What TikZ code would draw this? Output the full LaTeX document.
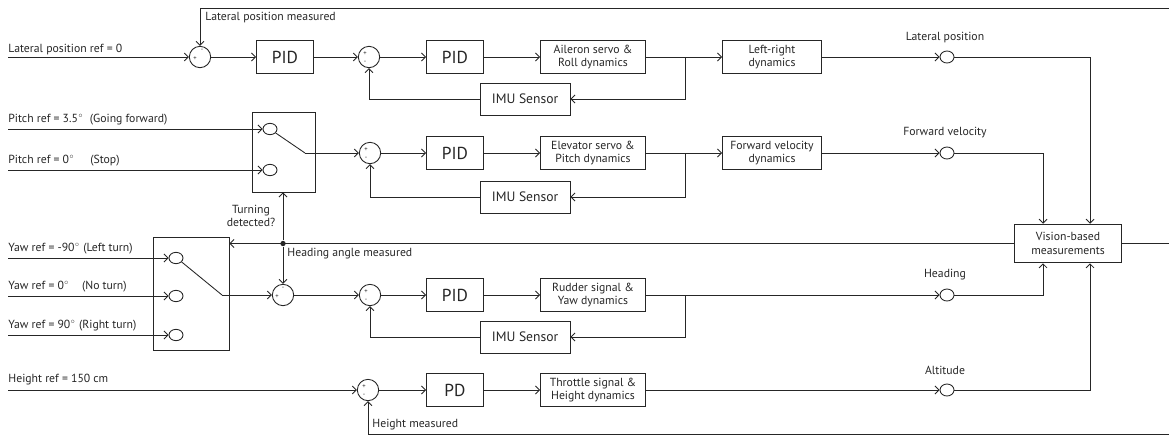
\documentclass[tikz,border=0pt]{standalone}
\usepackage{fontspec}
\setmainfont{PT Sans}
\usetikzlibrary{arrows.meta,shapes.geometric}

\newcommand{\dg}{\textsuperscript{$\scriptscriptstyle\circ$}}

\tikzset{
  blk/.style={draw, minimum height=25pt, inner sep=1pt, align=center, font=\fontsize{8.8}{10}\selectfont},
  ctrl/.style={blk, minimum width=42.75pt, font=\fontsize{13}{14}\selectfont},
  plant/.style={blk, minimum width=78.75pt},
  imu/.style={blk, minimum width=67.5pt, minimum height=24pt, font=\fontsize{10.2}{11}\selectfont},
  sumj/.style={draw, circle, minimum size=16pt, inner sep=0pt},
  tap/.style={draw, ellipse, minimum width=10.5pt, minimum height=9pt, inner sep=0pt},
  pole/.style={draw, ellipse, minimum width=10.5pt, minimum height=8.5pt, inner sep=0pt},
  swbox/.style={draw, inner sep=0pt},
  lbl/.style={font=\fontsize{8.8}{10}\selectfont, inner sep=0pt},
  sgn/.style={font=\fontsize{5}{5}\selectfont, inner sep=0pt},
}

\begin{document}
\begin{tikzpicture}[x=0.75pt, y=-0.75pt, >={Straight Barb[length=3pt,width=6pt]}, line width=0.65pt, color=black!85]
\useasboundingbox (0,0) rectangle (1169,437);

% lateral position loop
\node[sumj] (s1) at (200,57) {};
\node[sgn] (s1p) at (195,59) {+};
\node[sgn] (s1m) at (202,50) {-};
\node[ctrl] (pid1) at (285,57) {PID};
\node[sumj] (s2) at (369,57) {};
\node[sgn] (s2p) at (365,54) {+};
\node[sgn] (s2m) at (365,62) {-};
\node[ctrl] (pid2) at (455,57) {PID};
\node[plant] (ail) at (593,57) {Aileron servo \&\\Roll dynamics};
\node[plant, minimum width=74.25pt] (lr) at (772,57) {Left-right\\dynamics};
\node[imu] (imu1) at (525,99) {IMU Sensor};
\node[tap] (o1) at (947,57) {};
\node[lbl] (o1l) at (945,38) {Lateral position};
\coordinate (in1) at (8,57);
\node[lbl, anchor=west] (in1l) at (8,49) {Lateral position ref = 0};
\coordinate (b1) at (685,57);
\coordinate (fb1) at (1169,8);
\node[lbl, anchor=west] (fb1l) at (205,18) {Lateral position measured};

\draw[->] (in1) -- (s1);
\draw[->] (fb1) -| (s1);
\draw[->] (s1) -- (pid1);
\draw[->] (pid1) -- (s2);
\draw[->] (s2) -- (pid2);
\draw[->] (pid2) -- (ail);
\draw[->] (ail) -- (lr);
\draw[->] (b1) |- (imu1);
\draw[->] (imu1) -| (s2);
\draw[->] (lr) -- (o1);

% pitch loop
\node[swbox, minimum width=47.25pt, minimum height=60pt] (sw1) at (283.5,152) {};
\node[pole] (p1a) at (270,129) {};
\node[pole] (p1b) at (270,170) {};
\coordinate (k1) at (305,153);
\coordinate (in2a) at (8,129);
\coordinate (in2b) at (8,170);
\node[lbl, anchor=west] (in2al) at (8,120) {Pitch ref = 3.5\dg\ \ (Going forward)};
\node[lbl, anchor=west] (in2bl) at (8,161) {Pitch ref = 0\dg\ \ \ \ \ (Stop)};
\node[sumj] (s3) at (370,153) {};
\node[sgn] (s3p) at (366,150) {+};
\node[sgn] (s3m) at (366,158) {-};
\node[ctrl] (pid3) at (455,153) {PID};
\node[plant] (elv) at (593,153) {Elevator servo \&\\Pitch dynamics};
\node[plant, minimum width=74.25pt] (fwd) at (772,153) {Forward velocity\\dynamics};
\node[imu] (imu2) at (525,197) {IMU Sensor};
\node[tap] (o2) at (947,153) {};
\node[lbl] (o2l) at (945,133) {Forward velocity};
\coordinate (b2) at (685,153);

\draw[->] (in2a) -- (p1a);
\draw[->] (in2b) -- (p1b);
\draw (p1a.-35) -- (k1);
\draw[->] (k1) -- (s3);
\draw[->] (s3) -- (pid3);
\draw[->] (pid3) -- (elv);
\draw[->] (elv) -- (fwd);
\draw[->] (b2) |- (imu2);
\draw[->] (imu2) -| (s3);
\draw[->] (fwd) -- (o2);

% vision block
\node[blk, minimum width=80.25pt, minimum height=29pt] (vis) at (1068,243.5) {Vision-based\\measurements};
\coordinate (vout) at (1169,243.5);
\draw[->] (o1) -| ([xshift=16.5pt]vis.north);
\draw[->] (o2) -| ([xshift=-18.75pt]vis.north);
\draw (vis) -- (vout);

% heading loop
\node[swbox, minimum width=57pt, minimum height=84.75pt] (sw2) at (191,293.5) {};
\node[pole] (p2a) at (176,258) {};
\node[pole] (p2b) at (176,296) {};
\node[pole] (p2c) at (176,335) {};
\coordinate (k2) at (222,295);
\coordinate (in3a) at (8,258);
\coordinate (in3b) at (8,296);
\coordinate (in3c) at (8,335);
\node[lbl, anchor=west] (in3al) at (8,249) {Yaw ref = -90\dg\ (Left turn)};
\node[lbl, anchor=west] (in3bl) at (8,287) {Yaw ref = 0\dg\ \ \ \ (No turn)};
\node[lbl, anchor=west] (in3cl) at (8,326) {Yaw ref = 90\dg\ (Right turn)};
\node[circle, fill, inner sep=0pt, minimum size=4pt] (jn) at (283,243.5) {};
\node[lbl, align=center] (turnl) at (251,216) {Turning\\detected?};
\node[lbl, anchor=west] (headl) at (287,254) {Heading angle measured};
\node[sumj] (s4) at (283,295) {};
\node[sgn] (s4m) at (283,288) {-};
\node[sgn] (s4p) at (277,297) {+};
\node[sumj] (s5) at (370,295) {};
\node[sgn] (s5p) at (366,292) {+};
\node[sgn] (s5m) at (366,300) {-};
\node[ctrl] (pid5) at (455,295) {PID};
\node[plant] (rud) at (593,295) {Rudder signal \&\\Yaw dynamics};
\node[imu] (imu3) at (525,337) {IMU Sensor};
\node[tap] (o3) at (947,295) {};
\node[lbl] (o3l) at (945,275) {Heading};
\coordinate (b3) at (685,295);

\draw[->] (vis) -- (sw2.east |- vis);
\draw[->] (jn) -- (sw1.south -| jn);
\draw[->] (jn) -- (s4);
\draw[->] (in3a) -- (p2a);
\draw[->] (in3b) -- (p2b);
\draw[->] (in3c) -- (p2c);
\draw (p2a.-35) -- (k2);
\draw[->] (k2) -- (s4);
\draw[->] (s4) -- (s5);
\draw[->] (s5) -- (pid5);
\draw[->] (pid5) -- (rud);
\draw[->] (b3) |- (imu3);
\draw[->] (imu3) -| (s5);
\draw[->] (rud) -- (o3);
\draw[->] (o3) -| ([xshift=-18.75pt]vis.south);

% height loop
\coordinate (in4) at (8,390);
\node[lbl, anchor=west] (in4l) at (8,380) {Height ref = 150 cm};
\node[sumj] (s6) at (368,390) {};
\node[sgn] (s6p) at (364,387) {+};
\node[sgn] (s6m) at (364,395) {-};
\node[ctrl] (pd) at (455,390) {PD};
\node[plant] (thr) at (593,390) {Throttle signal \&\\Height dynamics};
\node[tap] (o4) at (947,390) {};
\node[lbl] (o4l) at (945,370) {Altitude};
\coordinate (fb4) at (1169,434);
\node[lbl, anchor=west] (fb4l) at (372,425) {Height measured};

\draw[->] (in4) -- (s6);
\draw[->] (s6) -- (pd);
\draw[->] (pd) -- (thr);
\draw[->] (thr) -- (o4);
\draw[->] (o4) -| ([xshift=16.5pt]vis.south);
\draw[->] (fb4) -| (s6);
\end{tikzpicture}
\end{document}
